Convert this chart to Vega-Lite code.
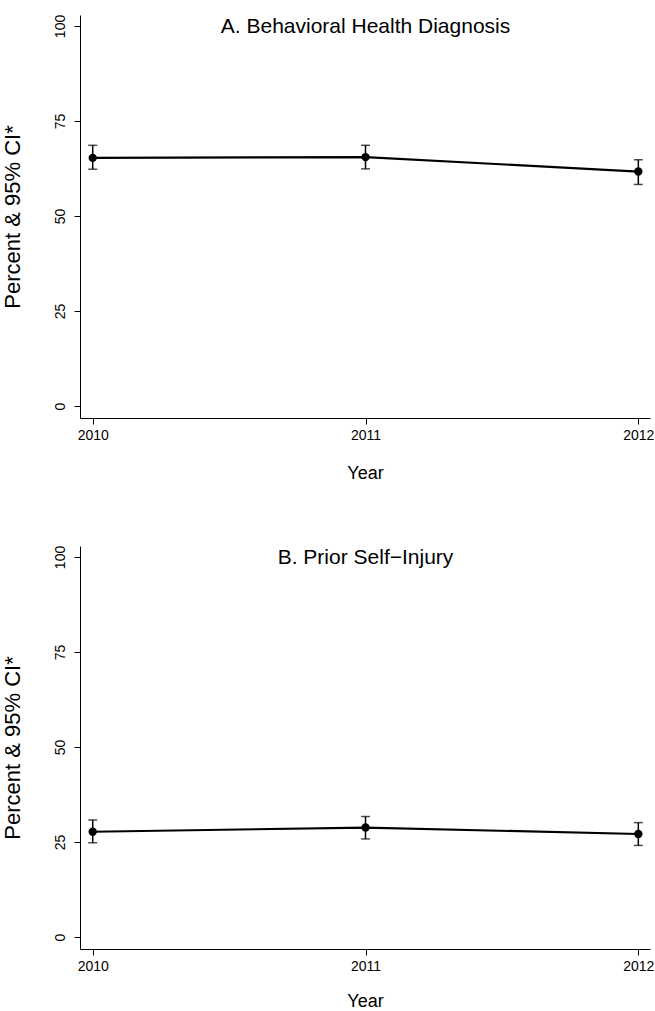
{
  "$schema": "https://vega.github.io/schema/vega-lite/v6.json",
  "autosize": {"type": "pad"},
  "padding": {"left": 1, "top": 14, "right": 0, "bottom": 0},
  "background": "white",
  "config": {
    "font": "Liberation Sans",
    "view": {"stroke": null},
    "axis": {
      "grid": false,
      "domainColor": "black",
      "domainWidth": 1,
      "tickColor": "black",
      "tickWidth": 1,
      "tickSize": 6,
      "labelFont": "Liberation Sans",
      "labelFontSize": 14,
      "labelColor": "black",
      "labelOverlap": false,
      "labelFlush": false,
      "titleFont": "Liberation Sans",
      "titleFontSize": 18,
      "titleFontWeight": "normal",
      "titleColor": "black"
    }
  },
  "datasets": {
    "a": [
      {"year": 2010, "pct": 65.3, "lo": 62.3, "hi": 68.6},
      {"year": 2011, "pct": 65.5, "lo": 62.4, "hi": 68.6},
      {"year": 2012, "pct": 61.7, "lo": 58.3, "hi": 64.8}
    ],
    "b": [
      {"year": 2010, "pct": 27.7, "lo": 24.8, "hi": 30.8},
      {"year": 2011, "pct": 28.8, "lo": 25.8, "hi": 31.7},
      {"year": 2012, "pct": 27.1, "lo": 24.1, "hi": 30.1}
    ],
    "ta": [{"year": 2011, "pct": 99.7, "label": "A. Behavioral Health Diagnosis"}],
    "tb": [{"year": 2011, "pct": 99.7, "label": "B. Prior Self−Injury"}]
  },
  "vconcat": [
    {
      "width": 570,
      "height": 403,
      "encoding": {
        "x": {"field": "year", "type": "quantitative", "title": "Year",
          "scale": {"domain": [2009.9534, 2012.0428], "nice": false, "zero": false},
          "axis": {"values": [2010, 2011, 2012], "tickCount": 10, "tickMinStep": 0.1, "format": "d", "labelPadding": 4, "titlePadding": 22}},
        "y": {"field": "pct", "type": "quantitative", "title": "Percent & 95% CI*",
          "scale": {"domain": [-3.158, 102.89], "nice": false, "zero": false},
          "axis": {"values": [0, 25, 50, 75, 100], "tickCount": 10, "labelAngle": -90, "labelAlign": "center", "labelBaseline": "bottom", "labelPadding": 7, "titlePadding": 29, "titleFontSize": 22}}
      },
      "layer": [
        {
          "data": {"name": "a"},
          "mark": {"type": "line", "color": "black", "strokeWidth": 2.2}
        },
        {
          "data": {"name": "a"},
          "mark": {"type": "errorbar", "color": "black", "thickness": 1.5, "ticks": {"size": 9, "thickness": 1.5, "color": "black"}},
          "encoding": {
            "y": {"field": "lo", "type": "quantitative", "title": "Percent & 95% CI*"},
            "y2": {"field": "hi"}
          }
        },
        {
          "data": {"name": "a"},
          "mark": {"type": "point", "filled": true, "color": "black", "opacity": 1, "size": 70}
        },
        {
          "data": {"name": "ta"},
          "mark": {"type": "text", "fontSize": 21, "color": "black", "baseline": "middle", "align": "center"},
          "encoding": {"text": {"field": "label"}}
        }
      ]
    },
    {
      "width": 570,
      "height": 403,
      "encoding": {
        "x": {"field": "year", "type": "quantitative", "title": "Year",
          "scale": {"domain": [2009.9534, 2012.0428], "nice": false, "zero": false},
          "axis": {"values": [2010, 2011, 2012], "tickCount": 10, "tickMinStep": 0.1, "format": "d", "labelPadding": 4, "titlePadding": 19}},
        "y": {"field": "pct", "type": "quantitative", "title": "Percent & 95% CI*",
          "scale": {"domain": [-3.158, 102.89], "nice": false, "zero": false},
          "axis": {"values": [0, 25, 50, 75, 100], "tickCount": 10, "labelAngle": -90, "labelAlign": "center", "labelBaseline": "bottom", "labelPadding": 7, "titlePadding": 29, "titleFontSize": 22}}
      },
      "layer": [
        {
          "data": {"name": "b"},
          "mark": {"type": "line", "color": "black", "strokeWidth": 2.2}
        },
        {
          "data": {"name": "b"},
          "mark": {"type": "errorbar", "color": "black", "thickness": 1.5, "ticks": {"size": 9, "thickness": 1.5, "color": "black"}},
          "encoding": {
            "y": {"field": "lo", "type": "quantitative", "title": "Percent & 95% CI*"},
            "y2": {"field": "hi"}
          }
        },
        {
          "data": {"name": "b"},
          "mark": {"type": "point", "filled": true, "color": "black", "opacity": 1, "size": 70}
        },
        {
          "data": {"name": "tb"},
          "mark": {"type": "text", "fontSize": 21, "color": "black", "baseline": "middle", "align": "center"},
          "encoding": {"text": {"field": "label"}}
        }
      ]
    }
  ],
  "bounds": "flush",
  "spacing": 128
}
